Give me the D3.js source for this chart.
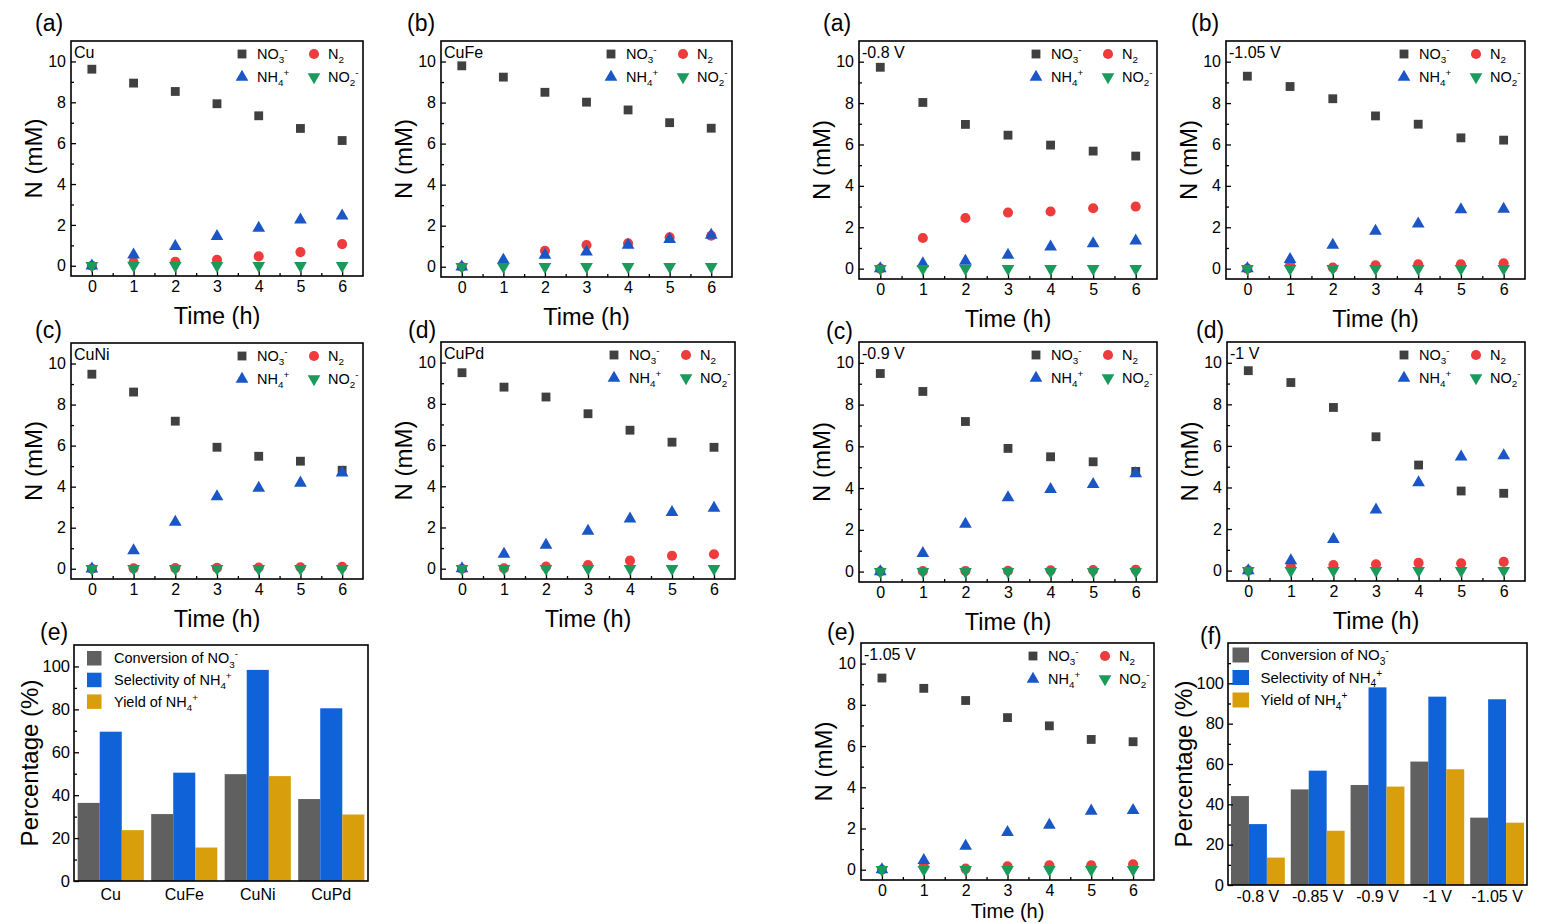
<!DOCTYPE html>
<html><head><meta charset="utf-8">
<script src="https://cdn.jsdelivr.net/npm/d3@7"></script>
<style>
body{margin:0;background:#fff}
svg{display:block}
text{font-family:Arial,"Liberation Sans",Helvetica,sans-serif;fill:#000}
</style>
</head><body>
<svg id="c" width="1543" height="923"></svg>
<script>
// ---------------- DATA ----------------
const times = [0,1,2,3,4,5,6];
const timeTicks = [0,1,2,3,4,5,6];
const nTicks = [0,2,4,6,8,10];
const pctTicks = [0,20,40,60,80,100];

const cuNO3 = [9.62,8.94,8.53,7.93,7.34,6.72,6.13];
const cuNH4 = [0,0.54,0.95,1.44,1.84,2.25,2.45];
const cuN2  = [0,0.18,0.2,0.29,0.46,0.67,1.06];
const cuNO2 = [0,0,0,0,0,0,0];

const cufeNO3 = [9.79,9.24,8.5,8.02,7.64,7.02,6.75];
const cufeNH4 = [0,0.33,0.57,0.73,1.06,1.33,1.54];
const cufeN2  = [0,0.16,0.78,1.06,1.14,1.43,1.51];
const cufeNO2 = [0,0,0,0,0,0,0];

const cuniNO3 = [9.48,8.61,7.19,5.92,5.48,5.24,4.8];
const cuniNH4 = [0,0.88,2.27,3.52,3.93,4.18,4.67];
const cuniN2  = [0,0.02,0.03,0.04,0.06,0.07,0.09];
const cuniNO2 = [0,0,0,0,0,0,0];

const cupdNO3 = [9.51,8.81,8.33,7.52,6.72,6.14,5.89];
const cupdNH4 = [0,0.71,1.15,1.83,2.42,2.74,2.94];
const cupdN2  = [0,0.02,0.1,0.18,0.39,0.63,0.7];
const cupdNO2 = [0,0,0,0,0,0,0];

const v080NO3 = [9.73,8.03,6.97,6.45,5.97,5.68,5.44];
const v080NH4 = [0,0.24,0.37,0.65,1.05,1.21,1.34];
const v080N2  = [0,1.48,2.45,2.71,2.76,2.92,3.0];
const v080NO2 = [0,0,0,0,0,0,0];

const v105NO3 = [9.3,8.8,8.21,7.38,6.98,6.32,6.21];
const v105NH4 = [0,0.45,1.14,1.81,2.16,2.85,2.88];
const v105N2  = [0,0.18,0.05,0.16,0.21,0.21,0.26];
const v105NO2 = [0,0,0,0,0,0,0];

const v090NO3 = [9.49,8.63,7.19,5.9,5.5,5.26,4.8];
const v090NH4 = [0,0.87,2.28,3.54,3.94,4.18,4.69];
const v090N2  = [0,0.02,0.03,0.04,0.06,0.07,0.09];
const v090NO2 = [0,0,0,0,0,0,0];

const v100NO3 = [9.62,9.05,7.85,6.44,5.08,3.83,3.72];
const v100NH4 = [0,0.48,1.51,2.92,4.23,5.48,5.53];
const v100N2  = [0,0.19,0.27,0.3,0.37,0.35,0.42];
const v100NO2 = [0,0,0,0,0,0,0];

const catalysts = ["Cu","CuFe","CuNi","CuPd"];
const catConversion  = [36.4,31.2,49.8,38.2];
const catSelectivity = [69.6,50.5,98.4,80.5];
const catYield       = [23.7,15.6,48.9,31.0];

const potentials = ["-0.8 V","-0.85 V","-0.9 V","-1 V","-1.05 V"];
const potConversion  = [44.1,47.4,49.6,61.2,33.4];
const potSelectivity = [30.2,56.7,98.0,93.4,92.1];
const potYield       = [13.6,26.9,48.8,57.4,30.9];

// ---------------- STYLE / LAYOUT ----------------
const svg = d3.select("#c");
const FS_TICK = 16, FS_TITLE = 24, FS_TIME = 23.5, FS_LET = 23, FS_LEG = 14.5, FS_NAME = 16;

const seriesStyle = {
  NO3: {sym: d3.symbolSquare, size: 78, color: "#404040", rot: 0,
        label: [["NO"],["3","sub"],["-","sup"]]},
  N2:  {sym: d3.symbolCircle, size: 80, color: "#ee3b3b", rot: 0,
        label: [["N"],["2","sub"]]},
  NH4: {sym: d3.symbolTriangle, size: 70, color: "#1b56c6", rot: 0,
        label: [["NH"],["4","sub"],["+","sup"]]},
  NO2: {sym: d3.symbolTriangle, size: 70, color: "#1a9a5b", rot: 180,
        label: [["NO"],["2","sub"],["-","sup"]]}
};
const drawOrder = ["NO3","N2","NH4","NO2"];
const legendPos = {NO3:[0,0], N2:[1,0], NH4:[0,1], NO2:[1,1]};

function rich(t, parts, fs) {
  let cur = 0;
  parts.forEach(p => {
    const s = t.append("tspan").text(p[0]);
    let target = 0, f = fs;
    if (p[1] === "sub") { target = fs*0.28; f = fs*0.68; }
    if (p[1] === "sup") { target = -fs*0.42; f = fs*0.68; }
    s.attr("font-size", f);
    if (target !== cur) { s.attr("dy", target - cur); cur = target; }
  });
}

const scatterPanels = [
  {box:[71,363,41,276],  letter:"(a)", lx:35,   ly:31,  name:"Cu",      d:{NO3:cuNO3,NH4:cuNH4,N2:cuN2,NO2:cuNO2}},
  {box:[441,732,41,277], letter:"(b)", lx:407,  ly:31,  name:"CuFe",    d:{NO3:cufeNO3,NH4:cufeNH4,N2:cufeN2,NO2:cufeNO2}},
  {box:[71,363,343,579], letter:"(c)", lx:35,   ly:338, name:"CuNi",    d:{NO3:cuniNO3,NH4:cuniNH4,N2:cuniN2,NO2:cuniNO2}},
  {box:[441,735,342,579],letter:"(d)", lx:408,  ly:338, name:"CuPd",    d:{NO3:cupdNO3,NH4:cupdNH4,N2:cupdN2,NO2:cupdNO2}},
  {box:[859,1157,41,279],letter:"(a)", lx:823,  ly:31,  name:"-0.8 V",  d:{NO3:v080NO3,NH4:v080NH4,N2:v080N2,NO2:v080NO2}},
  {box:[1226,1525,41,279],letter:"(b)",lx:1191, ly:31,  name:"-1.05 V", d:{NO3:v105NO3,NH4:v105NH4,N2:v105N2,NO2:v105NO2}},
  {box:[859,1157,342,582],letter:"(c)",lx:826,  ly:339, name:"-0.9 V",  d:{NO3:v090NO3,NH4:v090NH4,N2:v090N2,NO2:v090NO2}},
  {box:[1227,1525,342,581],letter:"(d)",lx:1196,ly:338, name:"-1 V",    d:{NO3:v100NO3,NH4:v100NH4,N2:v100N2,NO2:v100NO2}},
  {box:[861,1154,643,880],letter:"(e)",lx:827,  ly:640, name:"-1.05 V", d:{NO3:v105NO3,NH4:v105NH4,N2:v105N2,NO2:v105NO2}, timeY:918, timeFs:20}
];

function inwardAxes(g, x, y, xMaj, xMin, yMaj, yMin, x0, y1) {
  const ax = g.append("g").attr("transform",`translate(0,${y1})`)
    .call(d3.axisBottom(x).tickValues(xMaj).tickSize(-5).tickPadding(5).tickFormat(d3.format("d")));
  ax.select(".domain").remove();
  ax.selectAll("text").attr("font-size",FS_TICK).attr("font-family",null);
  const axm = g.append("g").attr("transform",`translate(0,${y1})`)
    .call(d3.axisBottom(x).tickValues(xMin).tickSize(-3).tickFormat(""));
  axm.select(".domain").remove();
  const ay = g.append("g").attr("transform",`translate(${x0},0)`)
    .call(d3.axisLeft(y).tickValues(yMaj).tickSize(-5).tickPadding(5).tickFormat(d3.format("d")));
  ay.select(".domain").remove();
  ay.selectAll("text").attr("font-size",FS_TICK).attr("font-family",null);
  const aym = g.append("g").attr("transform",`translate(${x0},0)`)
    .call(d3.axisLeft(y).tickValues(yMin).tickSize(-3).tickFormat(""));
  aym.select(".domain").remove();
  g.selectAll(".tick line").attr("stroke","#000").attr("stroke-width",1.3);
  return ay;
}

scatterPanels.forEach(p => {
  const [x0,x1,y0,y1] = p.box;
  const g = svg.append("g");
  const x = d3.scaleLinear().domain([-0.5,6.5]).range([x0,x1]);
  const y = d3.scaleLinear().domain([-0.5,11]).range([y1,y0]);

  inwardAxes(g, x, y, timeTicks, [0.5,1.5,2.5,3.5,4.5,5.5],
             nTicks, [1,3,5,7,9], x0, y1);

  drawOrder.forEach(k => {
    const st = seriesStyle[k];
    g.append("g").selectAll("path").data(times.map((t,i)=>[t,p.d[k][i]])).join("path")
      .attr("d", d3.symbol().type(st.sym).size(st.size))
      .attr("transform", d => `translate(${x(d[0])},${y(d[1])}) rotate(${st.rot})`)
      .attr("fill", st.color);
  });

  g.append("rect").attr("x",x0).attr("y",y0).attr("width",x1-x0).attr("height",y1-y0)
    .attr("fill","none").attr("stroke","#000").attr("stroke-width",1.6);

  // legend
  drawOrder.forEach(k => {
    const st = seriesStyle[k];
    const [c,r] = legendPos[k];
    const mx = x1 + (c===0 ? -121 : -49);
    const my = y0 + 13 + r*23;
    g.append("path").attr("d", d3.symbol().type(st.sym).size(st.size))
      .attr("transform",`translate(${mx},${my}) rotate(${st.rot})`).attr("fill",st.color);
    const t = g.append("text").attr("x", mx + (c===0?15:14)).attr("y", my + 5).attr("font-size",FS_LEG);
    rich(t, st.label, FS_LEG);
  });

  g.append("text").attr("x",x0+3).attr("y",y0+17).attr("font-size",FS_NAME).text(p.name);
  g.append("text").attr("x",p.lx).attr("y",p.ly).attr("font-size",FS_LET).text(p.letter);
  g.append("text").attr("x",(x0+x1)/2).attr("y",p.timeY || (y1+48)).attr("text-anchor","middle")
    .attr("font-size",p.timeFs || FS_TIME).text("Time (h)");
  g.append("text").attr("transform",`translate(${x0-29},${(y0+y1)/2}) rotate(-90)`)
    .attr("text-anchor","middle").attr("font-size",FS_TITLE).text("N (mM)");
});

// ---------------- BAR PANELS ----------------
const barColors = ["#606060","#1062d8","#d99e0b"];
const barLegend = [
  [["Conversion of NO"],["3","sub"],["-","sup"]],
  [["Selectivity of NH"],["4","sub"],["+","sup"]],
  [["Yield of NH"],["4","sub"],["+","sup"]]
];
const barPanels = [
  {box:[74,368,645,881], ymax:110, letter:"(e)", lx:40, ly:640, cats:catalysts,
   vals:[catConversion,catSelectivity,catYield], lgX:13, lgY:6, sw:[14.5,14.5], step:21.7, txt:40, fs:14.5, xlab:19},
  {box:[1228,1527,643,885], ymax:120, letter:"(f)", lx:1200, ly:644, cats:potentials,
   vals:[potConversion,potSelectivity,potYield], lgX:4.5, lgY:4.5, sw:[16.5,15], step:22.5, txt:32.5, fs:15, xlab:17}
];

barPanels.forEach(p => {
  const [x0,x1,y0,y1] = p.box;
  const g = svg.append("g");
  const x = d3.scaleBand().domain(p.cats).range([x0,x1]).paddingInner(0.1).paddingOuter(0.05);
  const xs = d3.scaleBand().domain([0,1,2]).range([0,x.bandwidth()]);
  const y = d3.scaleLinear().domain([0,p.ymax]).range([y1,y0]);

  p.vals.forEach((arr, si) => {
    g.append("g").selectAll("rect").data(p.cats.map((c,i)=>[c,arr[i]])).join("rect")
      .attr("x", d => x(d[0]) + xs(si))
      .attr("width", xs.bandwidth())
      .attr("y", d => y(d[1]))
      .attr("height", d => y(0) - y(d[1]))
      .attr("fill", barColors[si]);
  });

  const ay = g.append("g").attr("transform",`translate(${x0},0)`)
    .call(d3.axisLeft(y).tickValues(pctTicks).tickSize(-5).tickPadding(4).tickFormat(d3.format("d")));
  ay.select(".domain").remove();
  ay.selectAll("text").attr("font-size",16.5).attr("font-family",null);
  const aym = g.append("g").attr("transform",`translate(${x0},0)`)
    .call(d3.axisLeft(y).tickValues(d3.range(10,p.ymax,20)).tickSize(-3).tickFormat(""));
  aym.select(".domain").remove();
  g.selectAll(".tick line").attr("stroke","#000").attr("stroke-width",1.3);

  const ax = g.append("g").attr("transform",`translate(0,${y1})`)
    .call(d3.axisBottom(x).tickSize(0).tickPadding(p.xlab - 11.5));
  ax.select(".domain").remove();
  ax.selectAll("text").attr("font-size",16).attr("font-family",null);

  g.append("rect").attr("x",x0).attr("y",y0).attr("width",x1-x0).attr("height",y1-y0)
    .attr("fill","none").attr("stroke","#000").attr("stroke-width",1.6);

  barLegend.forEach((lab,i) => {
    const ty = y0 + p.lgY + i*p.step;
    g.append("rect").attr("x",x0+p.lgX).attr("y",ty).attr("width",p.sw[0]).attr("height",p.sw[1])
      .attr("fill",barColors[i]);
    const t = g.append("text").attr("x",x0+p.txt).attr("y",ty + p.sw[1]*0.5 + p.fs*0.36).attr("font-size",p.fs);
    rich(t, lab, p.fs);
  });

  g.append("text").attr("x",p.lx).attr("y",p.ly).attr("font-size",FS_LET).text(p.letter);
  g.append("text").attr("transform",`translate(${x0-36.5},${(y0+y1)/2}) rotate(-90)`)
    .attr("text-anchor","middle").attr("font-size",FS_TITLE).text("Percentage (%)");
});
</script>
</body></html>
